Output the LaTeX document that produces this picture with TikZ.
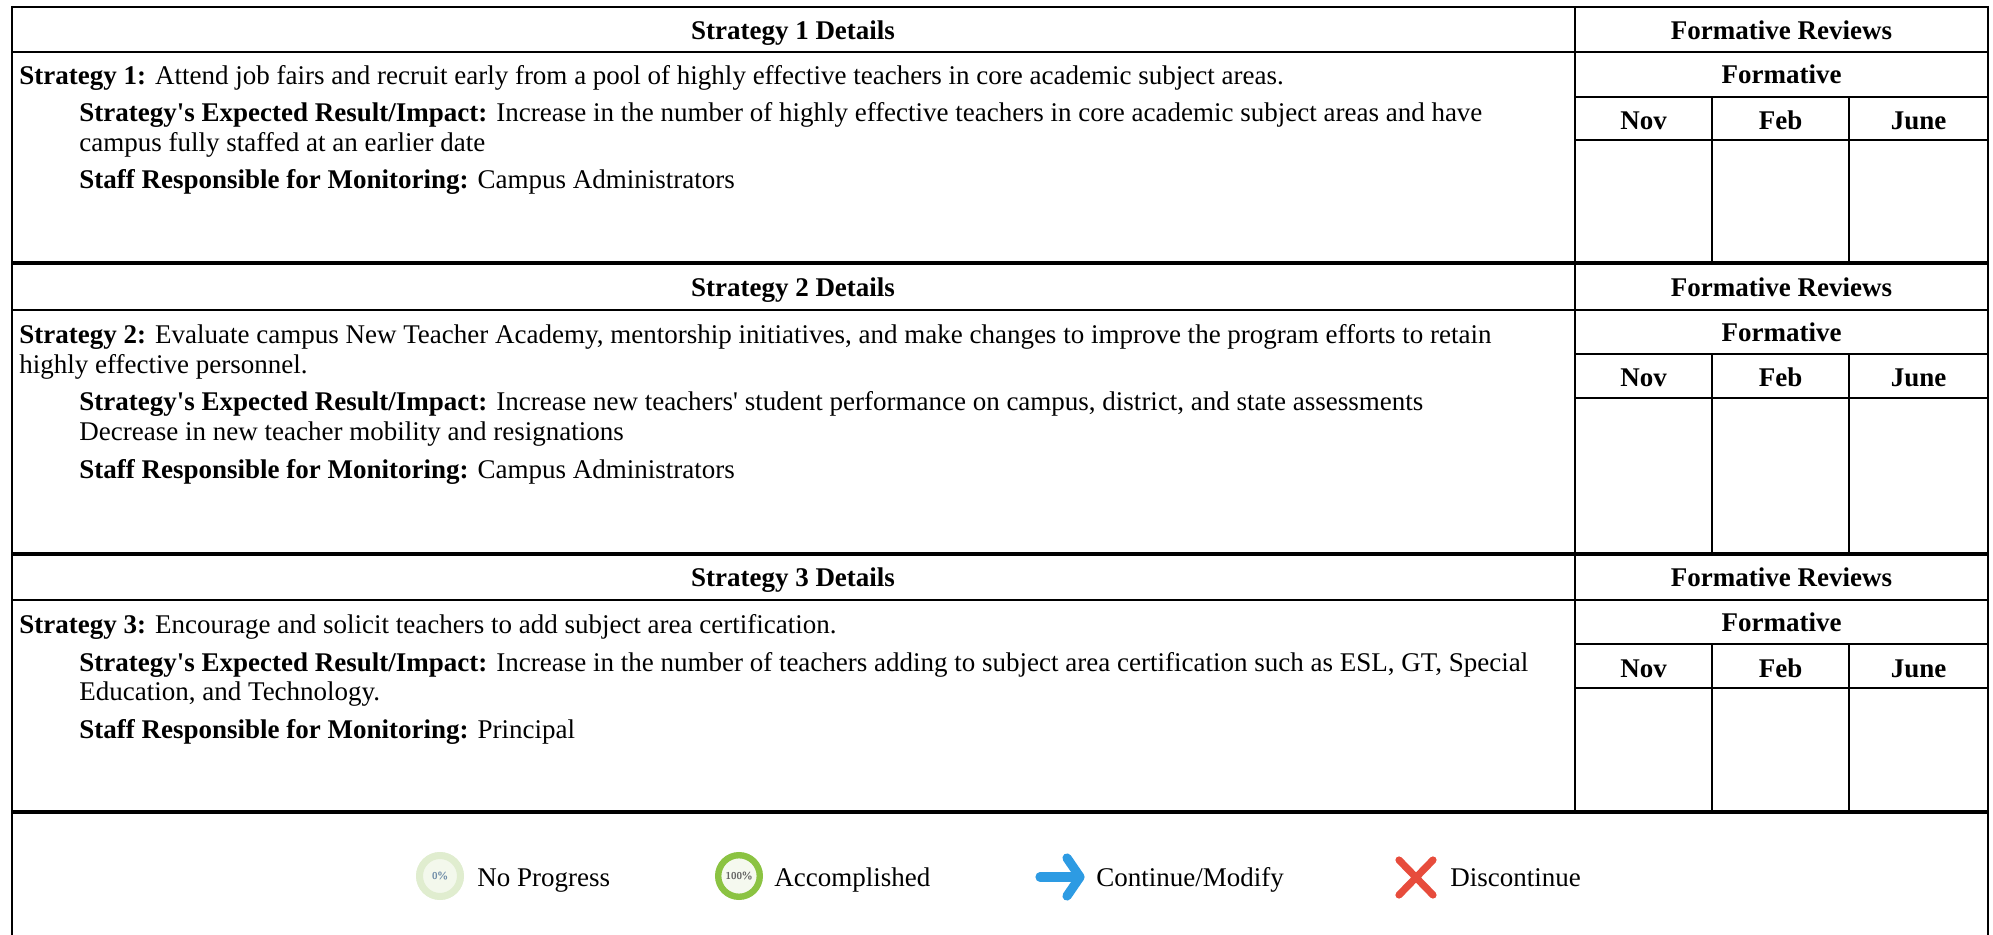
\documentclass[tikz,border=0pt]{standalone}
\usepackage{fontspec}
\setmainfont{Liberation Serif}
\usetikzlibrary{calc}

\definecolor{ringpale}{RGB}{224,237,207}
\definecolor{innerpale}{RGB}{243,248,236}
\definecolor{ringgreen}{RGB}{139,195,66}
\definecolor{innergreen}{RGB}{245,249,239}
\definecolor{arrowblue}{RGB}{45,155,227}
\definecolor{crossred}{RGB}{231,76,60}
\definecolor{pctblue}{RGB}{110,140,168}
\definecolor{pctgray}{RGB}{100,100,100}

\newcommand{\tablefont}{\fontsize{13.5}{16}\selectfont}
\newcommand{\sq}{\textquotesingle}

\tikzset{
  tableline/.style={line width=1pt},
  blockline/.style={line width=1.6pt},
  cellhead/.style={font=\tablefont\bfseries, anchor=base, inner sep=0pt},
  bodytext/.style={font=\tablefont, anchor=base west, inner sep=0pt},
  pcttext/.style={font=\fontsize{5}{6}\selectfont\sffamily\bfseries, inner sep=0pt}
}

\begin{document}
\begin{tikzpicture}[x=0.5pt, y=-0.5pt]   % one unit = one pixel, y down

\useasboundingbox (0,0) rectangle (1993,935);

% ---------------------------------------------------------------
% Outer frame
\draw[tableline] (11.5,7) -- (1988,7);
\draw[tableline] (11.5,6) -- (11.5,935);
\draw[tableline] (1988,6) -- (1988,935);

% ---------------------------------------------------------------
% Three strategy blocks: top / header / formative / months / bottom
\foreach \n/\top/\hb/\fb/\nb/\bot in {1/7/52/97/140/263,
                                     2/263/310/354/398/554,
                                     3/554/600/644/688/812} {
  \draw[blockline] (11.5,\bot) -- (1988,\bot);
  \draw[tableline] (11.5,\hb) -- (1988,\hb);
  \draw[tableline] (1575,\fb) -- (1988,\fb);
  \draw[tableline] (1575,\nb) -- (1988,\nb);
  \draw[tableline] (1575,\top) -- (1575,\bot);
  \draw[tableline] (1712,\fb) -- (1712,\bot);
  \draw[tableline] (1849,\fb) -- (1849,\bot);
  \node[cellhead] (head\n)   at (793,{(\top+\hb)/2+10})    {Strategy \n\ Details};
  \node[cellhead] (review\n) at (1781.5,{(\top+\hb)/2+10}) {Formative Reviews};
  \node[cellhead] (form\n)   at (1781.5,{(\hb+\fb)/2+9.5})  {Formative};
  \node[cellhead] (nov\n)    at (1643.5,{(\fb+\nb)/2+11})  {Nov};
  \node[cellhead] (feb\n)    at (1780.5,{(\fb+\nb)/2+11})  {Feb};
  \node[cellhead] (june\n)   at (1918.5,{(\fb+\nb)/2+11})  {June};
}

% ---------------------------------------------------------------
% Strategy 1
\node[bodytext] (strat1) at (19,85)  {\textbf{Strategy 1:} Attend job fairs and recruit early from a pool of highly effective teachers in core academic subject areas.};
\node[bodytext] (res1a)  at (79,122) {\textbf{Strategy\sq s Expected Result/Impact:} Increase in the number of highly effective teachers in core academic subject areas and have};
\node[bodytext] (res1b)  at (79,152) {campus fully staffed at an earlier date};
\node[bodytext] (staff1) at (79,189) {\textbf{Staff Responsible for Monitoring:} Campus Administrators};

% Strategy 2
\node[bodytext] (strat2a) at (19,344) {\textbf{Strategy 2:} Evaluate campus New Teacher Academy, mentorship initiatives, and make changes to improve the program efforts to retain};
\node[bodytext] (strat2b) at (19,374) {highly effective personnel.};
\node[bodytext] (res2a)   at (79,411) {\textbf{Strategy\sq s Expected Result/Impact:} Increase new teachers\sq\ student performance on campus, district, and state assessments};
\node[bodytext] (res2b)   at (79,441) {Decrease in new teacher mobility and resignations};
\node[bodytext] (staff2)  at (79,479) {\textbf{Staff Responsible for Monitoring:} Campus Administrators};

% Strategy 3
\node[bodytext] (strat3) at (19,633) {\textbf{Strategy 3:} Encourage and solicit teachers to add subject area certification.};
\node[bodytext] (res3a)  at (79,671) {\textbf{Strategy\sq s Expected Result/Impact:} Increase in the number of teachers adding to subject area certification such as ESL, GT, Special};
\node[bodytext] (res3b)  at (79,700) {Education, and Technology.};
\node[bodytext] (staff3) at (79,738) {\textbf{Staff Responsible for Monitoring:} Principal};

% ---------------------------------------------------------------
% Legend
\coordinate (noprog) at (440,876);
\coordinate (accomp) at (739,876);

\fill[innerpale] (noprog) circle[radius=12pt];
\draw[ringpale,line width=3.5pt] (noprog) circle[radius=10.25pt];
\node[pcttext,text=pctblue] (pct0) at (noprog) {0\%};
\node[bodytext] (noprogtxt) at (477,886) {No Progress};

\fill[innergreen] (accomp) circle[radius=12pt];
\draw[ringgreen,line width=3.2pt] (accomp) circle[radius=10.4pt];
\node[pcttext,text=pctgray] (pct100) at (accomp) {100\%};
\node[bodytext] (accomptxt) at (774,886) {Accomplished};

\draw[arrowblue,line width=4.6pt,line cap=round] (1040,877) -- (1077,877);
\draw[arrowblue,line width=4.6pt,line cap=round,line join=round]
      (1067,858) -- (1080,877) -- (1067,896);
\node[bodytext] (contxt) at (1096,886) {Continue/Modify};

\draw[crossred,line width=3.6pt,line cap=round]
      (1399,860) -- (1433,895) (1433,860) -- (1399,895);
\node[bodytext] (disctxt) at (1450,886) {Discontinue};

\end{tikzpicture}
\end{document}
